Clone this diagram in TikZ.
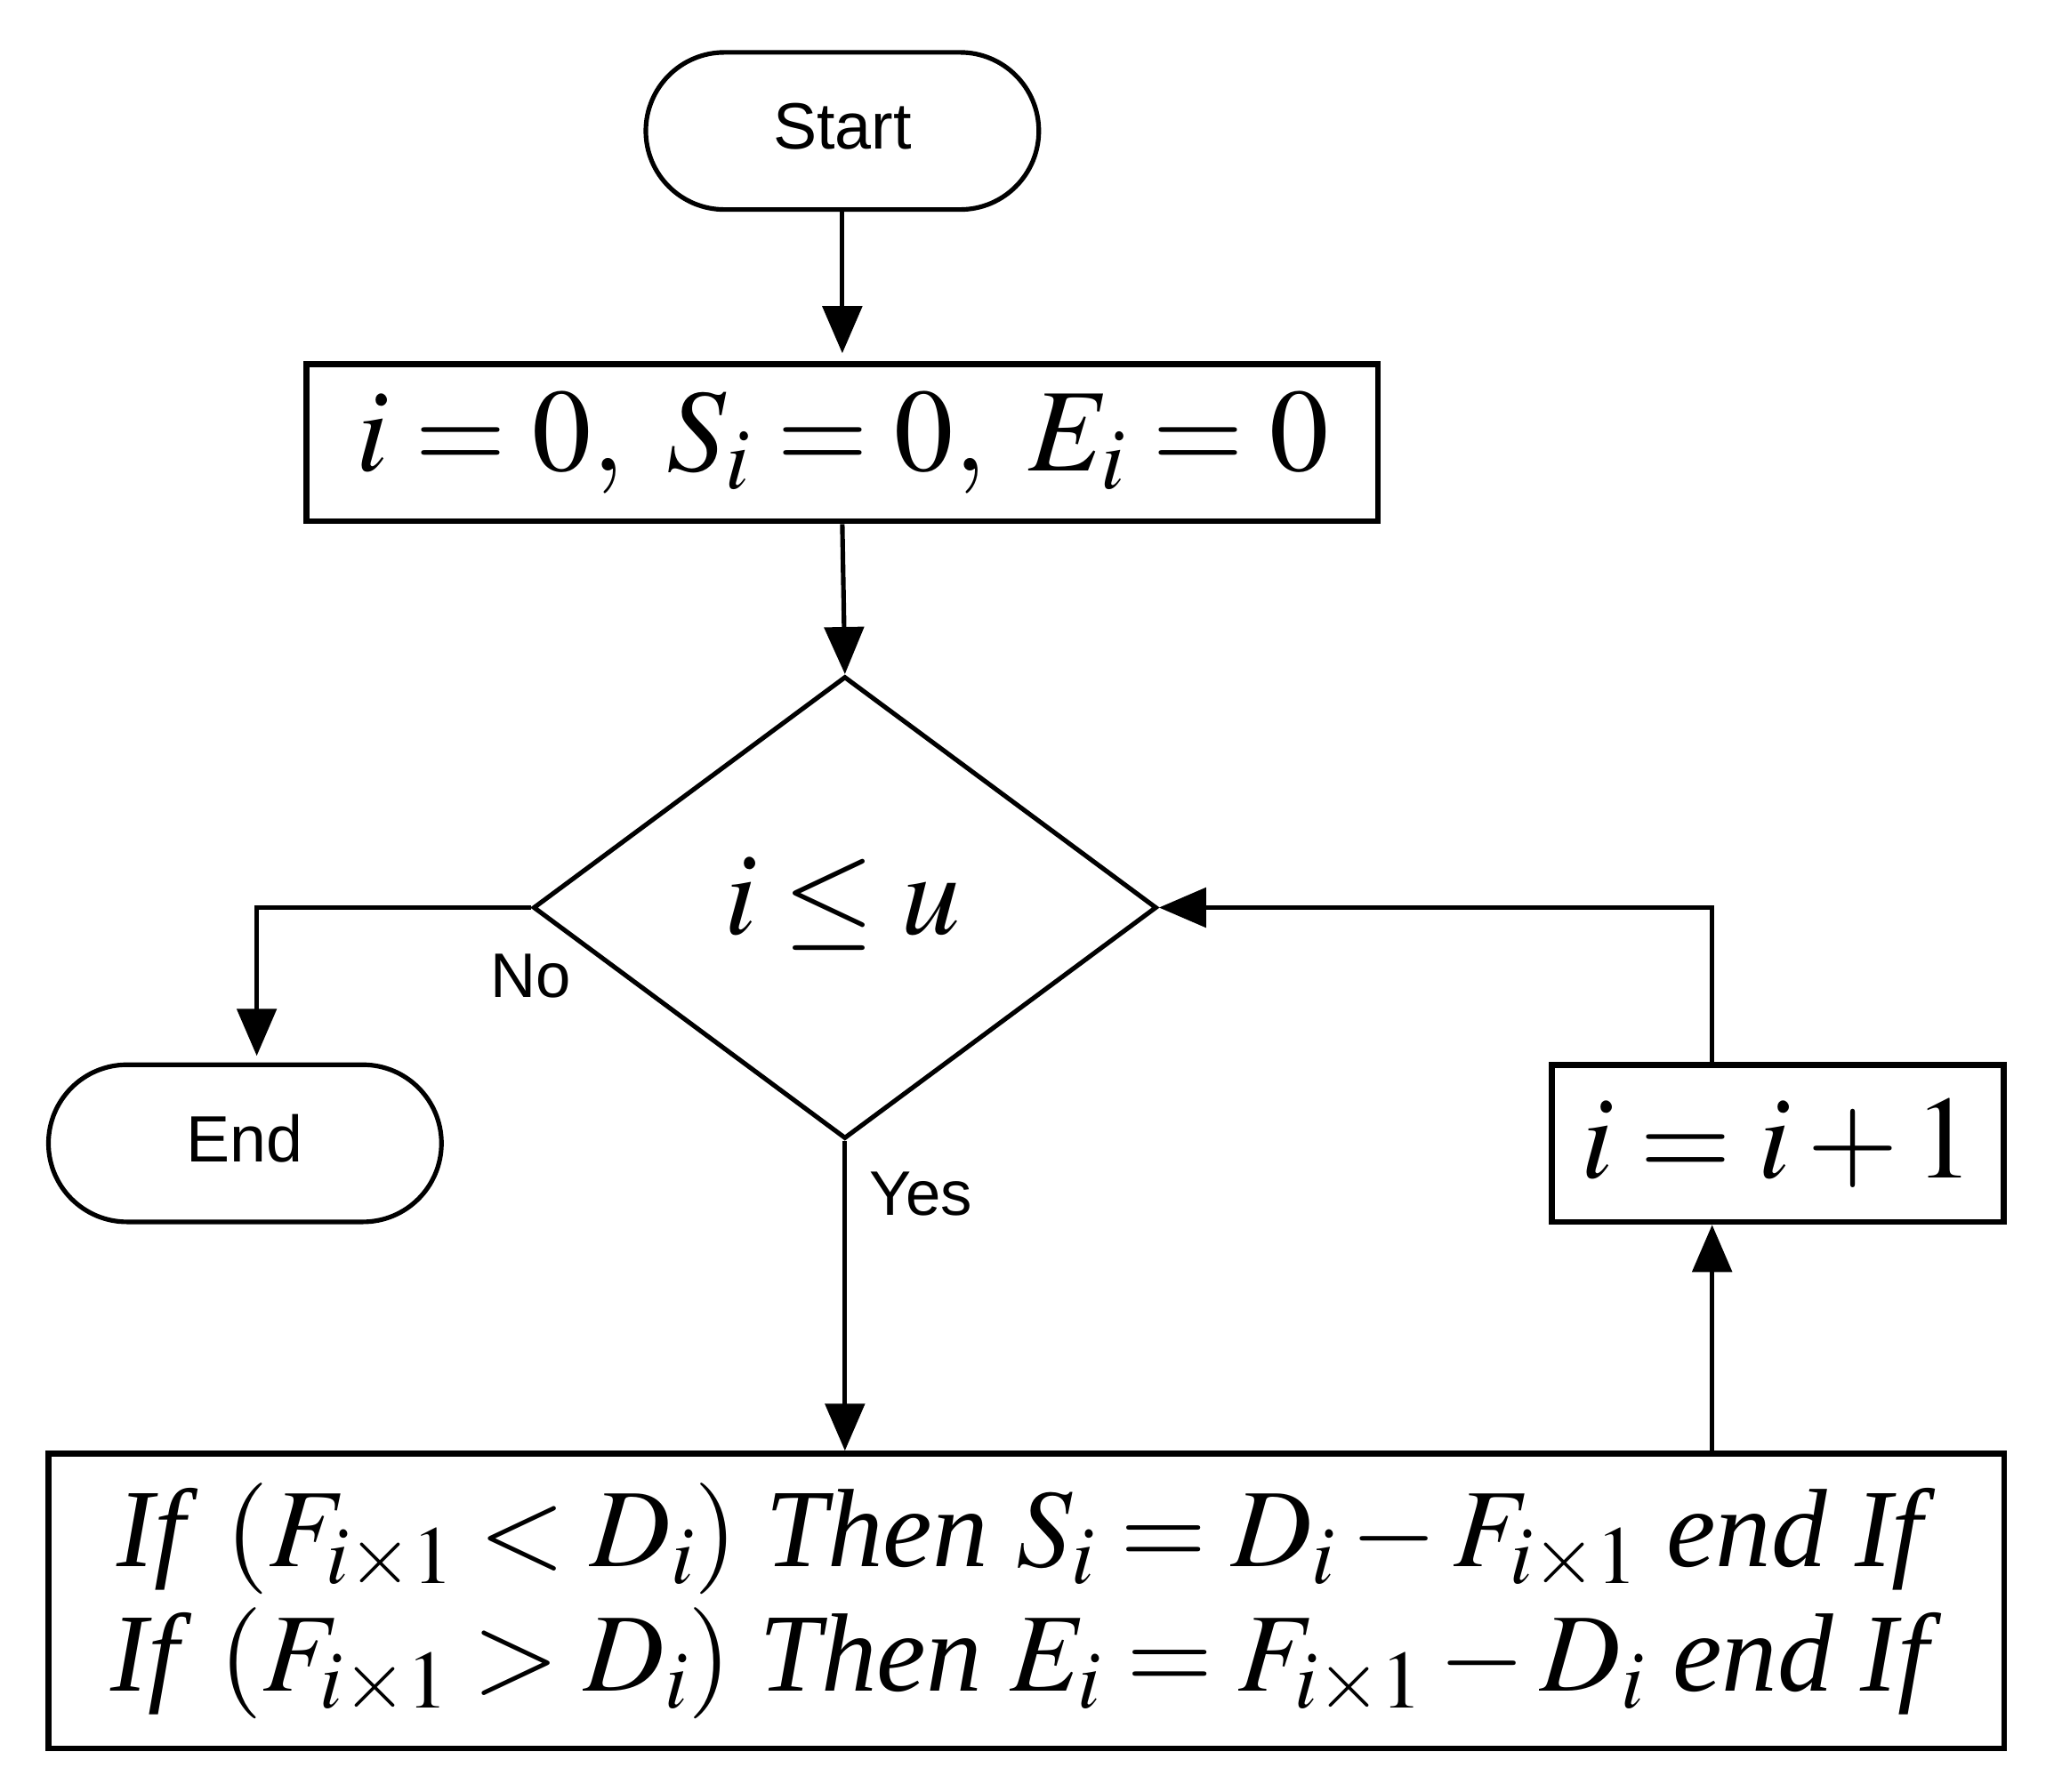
\documentclass[tikz,border=0pt]{standalone}
\usepackage{mathptmx}
\usepackage[no-math]{fontspec}
\setmainfont{Liberation Serif}
\newfontfamily\arialf{Liberation Sans}
\usetikzlibrary{shapes.geometric,arrows.meta,calc}
\begin{document}
\begin{tikzpicture}[x=1pt,y=-1pt,
  pill/.style={draw,line width=3.5pt,rounded corners=60pt,minimum width=300pt,minimum height=120pt,inner sep=0pt,font=\arialf\fontsize{50}{55}\selectfont},
  procbox/.style={draw,line width=4.5pt,inner sep=0pt,font=\fontsize{90}{95}\selectfont},
  decbox/.style={draw,diamond,line width=3.5pt,inner sep=0pt,minimum width=476pt,minimum height=353pt,font=\fontsize{90}{95}\selectfont},
  lbl/.style={font=\arialf\fontsize{48}{52}\selectfont,inner sep=0pt},
  conn/.style={line width=3.5pt,-{Triangle[length=36pt,width=30pt]}}]
\useasboundingbox (0,0) rectangle (1568,1368);
\node[pill] (start) at (643,100) {\raisebox{7pt}{Start}};
\node[procbox,minimum width=818pt,minimum height=120pt] (init) at (643,338) {$i=0,\ S_i=0,\ E_i=0$};
\node[decbox] (dec) at (645,693) {};
\node[font=\fontsize{90}{95}\selectfont] (dectext) at (643,690) {$i\leq u$};
\node[pill] (end) at (187,873) {\raisebox{8pt}{End}};
\node[procbox,minimum width=345pt,minimum height=120pt] (inc) at (1357,873) {$i=i+1$};
\node[procbox,minimum width=1493pt,minimum height=225pt,align=center,font=\fontsize{85}{95}\selectfont] (calc) at (783.5,1222.5)
 {\textit{If} $(F_{i\times1}<D_i)$ \textit{Then} $S_i=D_i-F_{i\times1}$ \textit{end If}\\
  \textit{If} $(F_{i\times1}>D_i)$ \textit{Then} $E_i=F_{i\times1}-D_i$ \textit{end If}};
\node[lbl] (no) at (405,745) {No};
\node[lbl] (yes) at (703,912) {Yes};
\coordinate (endin) at ($(end.north)+(9,-5)$);
\coordinate (upbase) at ($(inc.south)+(-50,0)$);
\coordinate (uptop) at ($(inc.north)+(-50,0)$);
\draw[conn] (start.south) -- ($(init.north)+(0,-6)$);
\draw[conn] (init.south) -- (dec.north);
\draw[conn] (dec.west) -| (endin);
\draw[conn] (dec.south) -- (dec.south |- calc.north);
\draw[conn] (upbase |- calc.north) -- (upbase);
\draw[conn] (uptop) |- (dec.east);
\end{tikzpicture}
\end{document}
